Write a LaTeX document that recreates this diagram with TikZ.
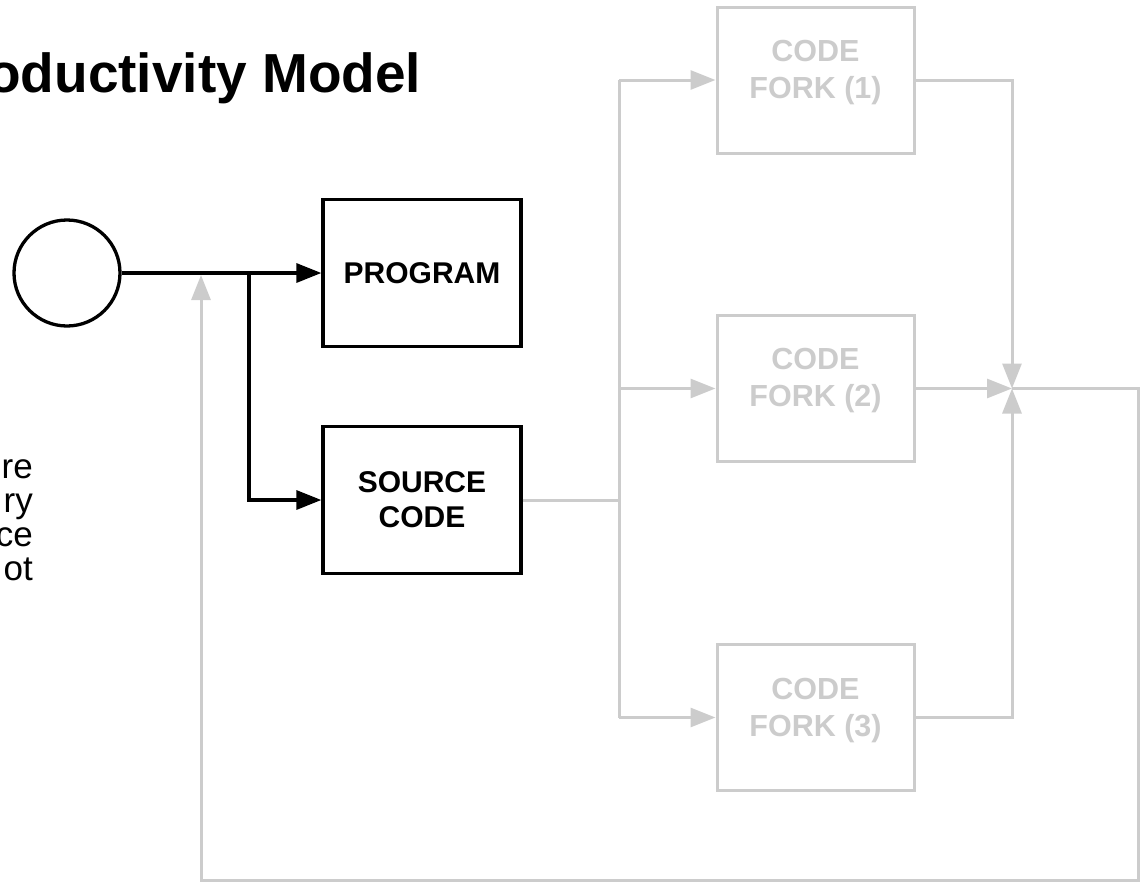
\documentclass[tikz,border=0pt]{standalone}
\usepackage{fontspec}
\setmainfont{Liberation Sans}
\usetikzlibrary{arrows.meta}
\definecolor{lg}{HTML}{CCCCCC}
\begin{document}
\begin{tikzpicture}[x=1pt,y=-1pt,
  blk/.style={draw=black,line width=3.3pt},
  gry/.style={draw=lg,line width=3pt},
  boxb/.style={blk,minimum width=198pt,minimum height=147pt,inner sep=0pt,align=center,
    font=\bfseries\fontsize{30}{35}\selectfont},
  boxg/.style={gry,minimum width=197pt,minimum height=146pt,inner sep=0pt},
  forktxt/.style={text=lg,align=center,inner sep=0pt,anchor=north,
    font=\bfseries\fontsize{30.5}{37}\selectfont},
  side/.style={anchor=base east,inner sep=0pt,font=\fontsize{35}{40}\selectfont},
  tipb/.style={-{Triangle[length=25pt,width=19pt]}},
  tipg/.style={-{Triangle[length=25pt,width=19pt,color=lg]}}
]
\useasboundingbox (0,0) rectangle (1143,884);
\clip (0,0) rectangle (1143,884);

% title
\node[anchor=base west,inner sep=0pt,font=\bfseries\fontsize{55}{60}\selectfont] (title) at (-13,92) {oductivity Model};

% side text fragments
\node[side] (s1t) at (33,478) {re};
\node[side] (s2t) at (33,512) {ry};
\node[side] (s3t) at (33,546) {ce};
\node[side] (s4t) at (33,580) {ot};

% black part
\node[blk,circle,minimum size=106pt,inner sep=0pt] (circ) at (67,273) {};
\node[boxb] (prog) at (422,273) {PROGRAM};
\node[boxb] (src) at (422,500) {SOURCE\\CODE};

\coordinate (b1) at (249,273);
\draw[blk,tipb] (circ.east) -- (prog.west);
\draw[blk,tipb] (b1) |- (src.west);

% forks
\node[boxg] (fork1) at (815.5,80) {};
\node[boxg] (fork2) at (815.5,388.5) {};
\node[boxg] (fork3) at (815.5,717.5) {};
\node[forktxt] (f1t) at (815.5,40) {CODE\\FORK (1)};
\node[forktxt] (f2t) at (815.5,348) {CODE\\FORK (2)};
\node[forktxt] (f3t) at (815.5,678) {CODE\\FORK (3)};

\coordinate (sp) at (619,500);
\draw[gry] (src.east) -- (sp);
\draw[gry] (sp |- fork1.west) -- (sp |- fork3.west);
\draw[gry,tipg] (sp |- fork1.west) -- (fork1.west);
\draw[gry,tipg] (sp |- fork2.west) -- (fork2.west);
\draw[gry,tipg] (sp |- fork3.west) -- (fork3.west);

\coordinate (j) at (1012,388.5);
\draw[gry,tipg] (fork1.east) -| (j);
\draw[gry,tipg] (fork2.east) -- (j);
\draw[gry,tipg] (fork3.east) -| (j);

\coordinate (r1) at (1138,388.5);
\coordinate (r2) at (1138,880);
\coordinate (r3) at (201,880);
\coordinate (fb) at (201,275);
\draw[gry,tipg] (j) -- (r1) -- (r2) -- (r3) -- (fb);
\end{tikzpicture}
\end{document}
